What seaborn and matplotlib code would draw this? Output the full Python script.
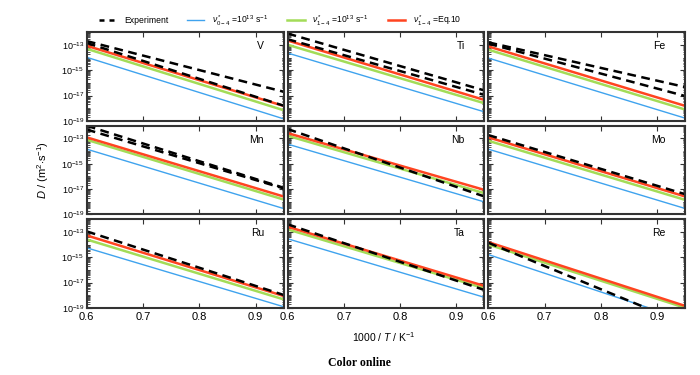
import numpy as np
import pandas as pd
import seaborn as sns
import matplotlib.pyplot as plt
from matplotlib.ticker import FixedLocator, LogLocator, NullFormatter
from matplotlib.lines import Line2D

# panels, reading order
elements = ['V', 'Ti', 'Fe', 'Mn', 'Nb', 'Mo', 'Ru', 'Ta', 'Re']
x_ends = [0.6, 0.95]

# log10(D) at x = 0.6 and x = 0.95
logD_nu04 = [(-13.98, -18.84), (-13.64, -18.29), (-14.04, -18.79),
             (-13.85, -18.54), (-13.45, -18.02), (-13.85, -18.54),
             (-14.26, -18.91), (-13.54, -18.17), (-14.79, -19.96)]
logD_nu14 = [(-13.31, -18.16), (-12.99, -17.61), (-13.38, -18.11),
             (-13.11, -17.83), (-12.79, -17.33), (-13.19, -17.86),
             (-13.60, -18.33), (-12.80, -17.45), (-14.00, -19.00)]
logD_eq10 = [(-13.07, -17.82), (-12.65, -17.35), (-13.12, -17.82),
             (-12.92, -17.59), (-12.58, -17.07), (-12.92, -17.59),
             (-13.28, -18.06), (-12.59, -17.27), (-13.81, -18.85)]
logD_exp_a = [(-12.85, -17.80), (-12.55, -16.95), (-12.90, -17.04),
              (-12.30, -16.95), (-12.26, -17.59), (-12.74, -17.41),
              (-12.96, -17.98), (-12.40, -17.59), (-13.86, -20.28)]
logD_exp_b = [(-12.70, -16.70), (-12.10, -16.60), (-12.80, -16.33),
              (-12.00, -16.90), None, None,
              None, None, None]

c_blue = '#3fa3ee'
c_green = '#a3dc58'
c_red = '#ff4420'

plt.rcParams['font.family'] = ['Liberation Sans', 'DejaVu Sans']
plt.rcParams['mathtext.fontset'] = 'custom'
plt.rcParams['mathtext.rm'] = 'Liberation Sans'
plt.rcParams['mathtext.it'] = 'Liberation Sans:italic'

fig, axes = plt.subplots(3, 3, figsize=(7, 3.75), dpi=100, sharex=True, sharey=True)
plt.subplots_adjust(left=0.124, right=0.979, top=0.914, bottom=0.179, wspace=0.02, hspace=0.055)

def dframe(vals):
    return pd.DataFrame({'x': x_ends, 'D': [10 ** v for v in vals]})

for i, ax in enumerate(axes.flat):
    d = dframe(logD_nu04[i])
    sns.lineplot(data=d, x='x', y='D', ax=ax, color=c_blue, lw=1.0)
    d = dframe(logD_nu14[i])
    sns.lineplot(data=d, x='x', y='D', ax=ax, color=c_green, lw=1.8)
    d = dframe(logD_eq10[i])
    sns.lineplot(data=d, x='x', y='D', ax=ax, color=c_red, lw=1.8)
    for e in [logD_exp_a[i], logD_exp_b[i]]:
        if e is None:
            continue
        d = dframe(e)
        sns.lineplot(data=d, x='x', y='D', ax=ax, color='black', lw=1.8,
                     linestyle=(0, (3.5, 2.2)))

    ax.set_yscale('log')
    ax.set_xlim(0.6, 0.95)
    ax.set_ylim(1e-19, 1e-12)
    ax.yaxis.set_major_locator(FixedLocator([1e-19, 1e-17, 1e-15, 1e-13]))
    ax.yaxis.set_minor_locator(LogLocator(base=10, subs=np.arange(1, 10), numticks=100))
    ax.yaxis.set_minor_formatter(NullFormatter())
    ax.set_xticks([0.6, 0.7, 0.8, 0.9])
    ax.tick_params(which='both', direction='in', top=True, right=True, color='#333333')
    ax.tick_params(which='major', length=3.5, width=0.8)
    ax.tick_params(which='minor', length=1.8, width=0.6)
    ax.tick_params(axis='y', labelsize=6.5, pad=2)
    ax.tick_params(axis='x', labelsize=8, pad=3)
    for s in ax.spines.values():
        s.set_linewidth(1.5)
        s.set_color('#333333')
    ax.set_xlabel('')
    ax.set_ylabel('')
    ax.text(0.9, 0.84, elements[i], transform=ax.transAxes, ha='right', va='center', fontsize=7.5)

axes[2, 0].set_xticklabels(['0.6', '0.7', '0.8', '0.9'])

handles = [Line2D([], [], color='black', lw=1.8, linestyle=(0, (2.0, 2.0))),
           Line2D([], [], color=c_blue, lw=1.0),
           Line2D([], [], color=c_green, lw=1.8),
           Line2D([], [], color=c_red, lw=1.8)]
labels = ['Experiment',
          r'$\nu^*_{0-4}$ =10$^{13}$ s$^{-1}$',
          r'$\nu^*_{1-4}$ =10$^{13}$ s$^{-1}$',
          r'$\nu^*_{1-4}$ =Eq.10']
fig.legend(handles, labels, loc='center', bbox_to_anchor=(0.4, 0.945), ncol=4,
           frameon=False, fontsize=6.2, handlelength=2.0, columnspacing=2.2, handletextpad=0.9)

fig.text(0.062, 0.547, r'$D$ / (m$^2$$\cdot$s$^{-1}$)', rotation=90, ha='center', va='center', fontsize=8)
fig.text(0.549, 0.101, r'1000 / $T$ / K$^{-1}$', ha='center', va='center', fontsize=7.5)
fig.text(0.513, 0.032, 'Color online', ha='center', va='center', fontsize=8.5,
         fontweight='bold', family=['Liberation Serif', 'DejaVu Serif'])

plt.savefig('out.png', dpi=100)
